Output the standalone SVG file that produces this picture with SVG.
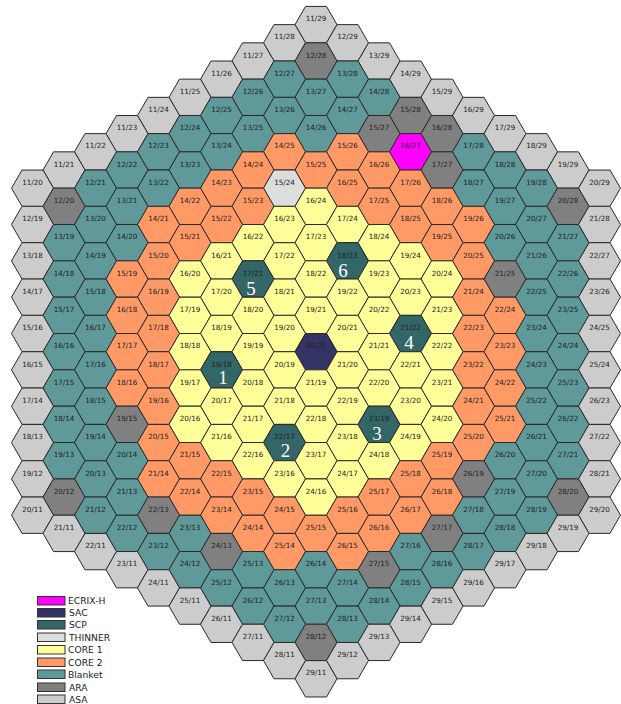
<svg xmlns="http://www.w3.org/2000/svg" width="621" height="704" viewBox="0 0 621 704">
<style>
text{font-family:"DejaVu Sans",sans-serif;font-size:7.2px;fill:#222;text-anchor:middle}
.hx{stroke:#2a2a2a;stroke-width:1}
.a{fill:#ccc}.r{fill:#808080}.b{fill:#5f9999}.o{fill:#f96}.y{fill:#ff9}.t{fill:#ddd}.s{fill:#366}.c{fill:#336}.e{fill:#f0f}
text.n{font-family:"Liberation Serif",serif;font-size:19px;fill:#fff}
.sw{stroke:#333;stroke-width:1}
text.l{font-size:9.2px;text-anchor:start;fill:#222}
</style>
<defs><polygon id="h" class="hx" points="-21,6 -10.5,-12.17 10.5,-12.17 21,6 10.5,24.17 -10.5,24.17"/></defs>
<g id="core">
<g transform="translate(0,18.6)">
<g id="n11-29" class="a" transform="translate(316)"><use href="#h"/><text y="2.6">11/29</text></g>
</g>
<g transform="translate(0,36.8)">
<g id="n11-28" class="a" transform="translate(284.5)"><use href="#h"/><text y="2.6">11/28</text></g>
<g id="n12-29" class="a" transform="translate(347.5)"><use href="#h"/><text y="2.6">12/29</text></g>
</g>
<g transform="translate(0,55)">
<g id="n11-27" class="a" transform="translate(253)"><use href="#h"/><text y="2.6">11/27</text></g>
<g id="n12-28" class="r" transform="translate(316)"><use href="#h"/><text y="2.6">12/28</text></g>
<g id="n13-29" class="a" transform="translate(379)"><use href="#h"/><text y="2.6">13/29</text></g>
</g>
<g transform="translate(0,73.2)">
<g id="n11-26" class="a" transform="translate(221.5)"><use href="#h"/><text y="2.6">11/26</text></g>
<g id="n12-27" class="b" transform="translate(284.5)"><use href="#h"/><text y="2.6">12/27</text></g>
<g id="n13-28" class="b" transform="translate(347.5)"><use href="#h"/><text y="2.6">13/28</text></g>
<g id="n14-29" class="a" transform="translate(410.5)"><use href="#h"/><text y="2.6">14/29</text></g>
</g>
<g transform="translate(0,91.3)">
<g id="n11-25" class="a" transform="translate(190)"><use href="#h"/><text y="2.6">11/25</text></g>
<g id="n12-26" class="b" transform="translate(253)"><use href="#h"/><text y="2.6">12/26</text></g>
<g id="n13-27" class="b" transform="translate(316)"><use href="#h"/><text y="2.6">13/27</text></g>
<g id="n14-28" class="b" transform="translate(379)"><use href="#h"/><text y="2.6">14/28</text></g>
<g id="n15-29" class="a" transform="translate(442)"><use href="#h"/><text y="2.6">15/29</text></g>
</g>
<g transform="translate(0,109.5)">
<g id="n11-24" class="a" transform="translate(158.5)"><use href="#h"/><text y="2.6">11/24</text></g>
<g id="n12-25" class="b" transform="translate(221.5)"><use href="#h"/><text y="2.6">12/25</text></g>
<g id="n13-26" class="b" transform="translate(284.5)"><use href="#h"/><text y="2.6">13/26</text></g>
<g id="n14-27" class="b" transform="translate(347.5)"><use href="#h"/><text y="2.6">14/27</text></g>
<g id="n15-28" class="r" transform="translate(410.5)"><use href="#h"/><text y="2.6">15/28</text></g>
<g id="n16-29" class="a" transform="translate(473.5)"><use href="#h"/><text y="2.6">16/29</text></g>
</g>
<g transform="translate(0,127.7)">
<g id="n11-23" class="a" transform="translate(127)"><use href="#h"/><text y="2.6">11/23</text></g>
<g id="n12-24" class="b" transform="translate(190)"><use href="#h"/><text y="2.6">12/24</text></g>
<g id="n13-25" class="b" transform="translate(253)"><use href="#h"/><text y="2.6">13/25</text></g>
<g id="n14-26" class="b" transform="translate(316)"><use href="#h"/><text y="2.6">14/26</text></g>
<g id="n15-27" class="r" transform="translate(379)"><use href="#h"/><text y="2.6">15/27</text></g>
<g id="n16-28" class="r" transform="translate(442)"><use href="#h"/><text y="2.6">16/28</text></g>
<g id="n17-29" class="a" transform="translate(505)"><use href="#h"/><text y="2.6">17/29</text></g>
</g>
<g transform="translate(0,145.8)">
<g id="n11-22" class="a" transform="translate(95.5)"><use href="#h"/><text y="2.6">11/22</text></g>
<g id="n12-23" class="b" transform="translate(158.5)"><use href="#h"/><text y="2.6">12/23</text></g>
<g id="n13-24" class="b" transform="translate(221.5)"><use href="#h"/><text y="2.6">13/24</text></g>
<g id="n14-25" class="o" transform="translate(284.5)"><use href="#h"/><text y="2.6">14/25</text></g>
<g id="n15-26" class="o" transform="translate(347.5)"><use href="#h"/><text y="2.6">15/26</text></g>
<g id="n16-27" class="e" transform="translate(410.5)"><use href="#h"/><text y="2.6">16/27</text></g>
<g id="n17-28" class="b" transform="translate(473.5)"><use href="#h"/><text y="2.6">17/28</text></g>
<g id="n18-29" class="a" transform="translate(536.5)"><use href="#h"/><text y="2.6">18/29</text></g>
</g>
<g transform="translate(0,164)">
<g id="n11-21" class="a" transform="translate(64)"><use href="#h"/><text y="2.6">11/21</text></g>
<g id="n12-22" class="b" transform="translate(127)"><use href="#h"/><text y="2.6">12/22</text></g>
<g id="n13-23" class="b" transform="translate(190)"><use href="#h"/><text y="2.6">13/23</text></g>
<g id="n14-24" class="o" transform="translate(253)"><use href="#h"/><text y="2.6">14/24</text></g>
<g id="n15-25" class="o" transform="translate(316)"><use href="#h"/><text y="2.6">15/25</text></g>
<g id="n16-26" class="o" transform="translate(379)"><use href="#h"/><text y="2.6">16/26</text></g>
<g id="n17-27" class="r" transform="translate(442)"><use href="#h"/><text y="2.6">17/27</text></g>
<g id="n18-28" class="b" transform="translate(505)"><use href="#h"/><text y="2.6">18/28</text></g>
<g id="n19-29" class="a" transform="translate(568)"><use href="#h"/><text y="2.6">19/29</text></g>
</g>
<g transform="translate(0,182.2)">
<g id="n11-20" class="a" transform="translate(32.5)"><use href="#h"/><text y="2.6">11/20</text></g>
<g id="n12-21" class="b" transform="translate(95.5)"><use href="#h"/><text y="2.6">12/21</text></g>
<g id="n13-22" class="b" transform="translate(158.5)"><use href="#h"/><text y="2.6">13/22</text></g>
<g id="n14-23" class="o" transform="translate(221.5)"><use href="#h"/><text y="2.6">14/23</text></g>
<g id="n15-24" class="t" transform="translate(284.5)"><use href="#h"/><text y="2.6">15/24</text></g>
<g id="n16-25" class="o" transform="translate(347.5)"><use href="#h"/><text y="2.6">16/25</text></g>
<g id="n17-26" class="o" transform="translate(410.5)"><use href="#h"/><text y="2.6">17/26</text></g>
<g id="n18-27" class="b" transform="translate(473.5)"><use href="#h"/><text y="2.6">18/27</text></g>
<g id="n19-28" class="b" transform="translate(536.5)"><use href="#h"/><text y="2.6">19/28</text></g>
<g id="n20-29" class="a" transform="translate(599.5)"><use href="#h"/><text y="2.6">20/29</text></g>
</g>
<g transform="translate(0,200.3)">
<g id="n12-20" class="r" transform="translate(64)"><use href="#h"/><text y="2.6">12/20</text></g>
<g id="n13-21" class="b" transform="translate(127)"><use href="#h"/><text y="2.6">13/21</text></g>
<g id="n14-22" class="o" transform="translate(190)"><use href="#h"/><text y="2.6">14/22</text></g>
<g id="n15-23" class="o" transform="translate(253)"><use href="#h"/><text y="2.6">15/23</text></g>
<g id="n16-24" class="y" transform="translate(316)"><use href="#h"/><text y="2.6">16/24</text></g>
<g id="n17-25" class="o" transform="translate(379)"><use href="#h"/><text y="2.6">17/25</text></g>
<g id="n18-26" class="o" transform="translate(442)"><use href="#h"/><text y="2.6">18/26</text></g>
<g id="n19-27" class="b" transform="translate(505)"><use href="#h"/><text y="2.6">19/27</text></g>
<g id="n20-28" class="r" transform="translate(568)"><use href="#h"/><text y="2.6">20/28</text></g>
</g>
<g transform="translate(0,218.5)">
<g id="n12-19" class="a" transform="translate(32.5)"><use href="#h"/><text y="2.6">12/19</text></g>
<g id="n13-20" class="b" transform="translate(95.5)"><use href="#h"/><text y="2.6">13/20</text></g>
<g id="n14-21" class="o" transform="translate(158.5)"><use href="#h"/><text y="2.6">14/21</text></g>
<g id="n15-22" class="o" transform="translate(221.5)"><use href="#h"/><text y="2.6">15/22</text></g>
<g id="n16-23" class="y" transform="translate(284.5)"><use href="#h"/><text y="2.6">16/23</text></g>
<g id="n17-24" class="y" transform="translate(347.5)"><use href="#h"/><text y="2.6">17/24</text></g>
<g id="n18-25" class="o" transform="translate(410.5)"><use href="#h"/><text y="2.6">18/25</text></g>
<g id="n19-26" class="o" transform="translate(473.5)"><use href="#h"/><text y="2.6">19/26</text></g>
<g id="n20-27" class="b" transform="translate(536.5)"><use href="#h"/><text y="2.6">20/27</text></g>
<g id="n21-28" class="a" transform="translate(599.5)"><use href="#h"/><text y="2.6">21/28</text></g>
</g>
<g transform="translate(0,236.7)">
<g id="n13-19" class="b" transform="translate(64)"><use href="#h"/><text y="2.6">13/19</text></g>
<g id="n14-20" class="b" transform="translate(127)"><use href="#h"/><text y="2.6">14/20</text></g>
<g id="n15-21" class="o" transform="translate(190)"><use href="#h"/><text y="2.6">15/21</text></g>
<g id="n16-22" class="y" transform="translate(253)"><use href="#h"/><text y="2.6">16/22</text></g>
<g id="n17-23" class="y" transform="translate(316)"><use href="#h"/><text y="2.6">17/23</text></g>
<g id="n18-24" class="y" transform="translate(379)"><use href="#h"/><text y="2.6">18/24</text></g>
<g id="n19-25" class="o" transform="translate(442)"><use href="#h"/><text y="2.6">19/25</text></g>
<g id="n20-26" class="b" transform="translate(505)"><use href="#h"/><text y="2.6">20/26</text></g>
<g id="n21-27" class="b" transform="translate(568)"><use href="#h"/><text y="2.6">21/27</text></g>
</g>
<g transform="translate(0,254.9)">
<g id="n13-18" class="a" transform="translate(32.5)"><use href="#h"/><text y="2.6">13/18</text></g>
<g id="n14-19" class="b" transform="translate(95.5)"><use href="#h"/><text y="2.6">14/19</text></g>
<g id="n15-20" class="o" transform="translate(158.5)"><use href="#h"/><text y="2.6">15/20</text></g>
<g id="n16-21" class="y" transform="translate(221.5)"><use href="#h"/><text y="2.6">16/21</text></g>
<g id="n17-22" class="y" transform="translate(284.5)"><use href="#h"/><text y="2.6">17/22</text></g>
<g id="n18-23" class="s" transform="translate(347.5)"><use href="#h"/><text y="2.6">18/23</text><text class="n" x="-4.5" y="22.3">6</text></g>
<g id="n19-24" class="y" transform="translate(410.5)"><use href="#h"/><text y="2.6">19/24</text></g>
<g id="n20-25" class="o" transform="translate(473.5)"><use href="#h"/><text y="2.6">20/25</text></g>
<g id="n21-26" class="b" transform="translate(536.5)"><use href="#h"/><text y="2.6">21/26</text></g>
<g id="n22-27" class="a" transform="translate(599.5)"><use href="#h"/><text y="2.6">22/27</text></g>
</g>
<g transform="translate(0,273)">
<g id="n14-18" class="b" transform="translate(64)"><use href="#h"/><text y="2.6">14/18</text></g>
<g id="n15-19" class="o" transform="translate(127)"><use href="#h"/><text y="2.6">15/19</text></g>
<g id="n16-20" class="y" transform="translate(190)"><use href="#h"/><text y="2.6">16/20</text></g>
<g id="n17-21" class="s" transform="translate(253)"><use href="#h"/><text y="2.6">17/21</text><text class="n" x="-2" y="22">5</text></g>
<g id="n18-22" class="y" transform="translate(316)"><use href="#h"/><text y="2.6">18/22</text></g>
<g id="n19-23" class="y" transform="translate(379)"><use href="#h"/><text y="2.6">19/23</text></g>
<g id="n20-24" class="y" transform="translate(442)"><use href="#h"/><text y="2.6">20/24</text></g>
<g id="n21-25" class="r" transform="translate(505)"><use href="#h"/><text y="2.6">21/25</text></g>
<g id="n22-26" class="b" transform="translate(568)"><use href="#h"/><text y="2.6">22/26</text></g>
</g>
<g transform="translate(0,291.2)">
<g id="n14-17" class="a" transform="translate(32.5)"><use href="#h"/><text y="2.6">14/17</text></g>
<g id="n15-18" class="b" transform="translate(95.5)"><use href="#h"/><text y="2.6">15/18</text></g>
<g id="n16-19" class="o" transform="translate(158.5)"><use href="#h"/><text y="2.6">16/19</text></g>
<g id="n17-20" class="y" transform="translate(221.5)"><use href="#h"/><text y="2.6">17/20</text></g>
<g id="n18-21" class="y" transform="translate(284.5)"><use href="#h"/><text y="2.6">18/21</text></g>
<g id="n19-22" class="y" transform="translate(347.5)"><use href="#h"/><text y="2.6">19/22</text></g>
<g id="n20-23" class="y" transform="translate(410.5)"><use href="#h"/><text y="2.6">20/23</text></g>
<g id="n21-24" class="o" transform="translate(473.5)"><use href="#h"/><text y="2.6">21/24</text></g>
<g id="n22-25" class="b" transform="translate(536.5)"><use href="#h"/><text y="2.6">22/25</text></g>
<g id="n23-26" class="a" transform="translate(599.5)"><use href="#h"/><text y="2.6">23/26</text></g>
</g>
<g transform="translate(0,309.4)">
<g id="n15-17" class="b" transform="translate(64)"><use href="#h"/><text y="2.6">15/17</text></g>
<g id="n16-18" class="o" transform="translate(127)"><use href="#h"/><text y="2.6">16/18</text></g>
<g id="n17-19" class="y" transform="translate(190)"><use href="#h"/><text y="2.6">17/19</text></g>
<g id="n18-20" class="y" transform="translate(253)"><use href="#h"/><text y="2.6">18/20</text></g>
<g id="n19-21" class="y" transform="translate(316)"><use href="#h"/><text y="2.6">19/21</text></g>
<g id="n20-22" class="y" transform="translate(379)"><use href="#h"/><text y="2.6">20/22</text></g>
<g id="n21-23" class="y" transform="translate(442)"><use href="#h"/><text y="2.6">21/23</text></g>
<g id="n22-24" class="o" transform="translate(505)"><use href="#h"/><text y="2.6">22/24</text></g>
<g id="n23-25" class="b" transform="translate(568)"><use href="#h"/><text y="2.6">23/25</text></g>
</g>
<g transform="translate(0,327.5)">
<g id="n15-16" class="a" transform="translate(32.5)"><use href="#h"/><text y="2.6">15/16</text></g>
<g id="n16-17" class="b" transform="translate(95.5)"><use href="#h"/><text y="2.6">16/17</text></g>
<g id="n17-18" class="o" transform="translate(158.5)"><use href="#h"/><text y="2.6">17/18</text></g>
<g id="n18-19" class="y" transform="translate(221.5)"><use href="#h"/><text y="2.6">18/19</text></g>
<g id="n19-20" class="y" transform="translate(284.5)"><use href="#h"/><text y="2.6">19/20</text></g>
<g id="n20-21" class="y" transform="translate(347.5)"><use href="#h"/><text y="2.6">20/21</text></g>
<g id="n21-22" class="s" transform="translate(410.5)"><use href="#h"/><text y="2.6">21/22</text><text class="n" x="-1.5" y="21.8">4</text></g>
<g id="n22-23" class="o" transform="translate(473.5)"><use href="#h"/><text y="2.6">22/23</text></g>
<g id="n23-24" class="b" transform="translate(536.5)"><use href="#h"/><text y="2.6">23/24</text></g>
<g id="n24-25" class="a" transform="translate(599.5)"><use href="#h"/><text y="2.6">24/25</text></g>
</g>
<g transform="translate(0,345.7)">
<g id="n16-16" class="b" transform="translate(64)"><use href="#h"/><text y="2.6">16/16</text></g>
<g id="n17-17" class="o" transform="translate(127)"><use href="#h"/><text y="2.6">17/17</text></g>
<g id="n18-18" class="y" transform="translate(190)"><use href="#h"/><text y="2.6">18/18</text></g>
<g id="n19-19" class="y" transform="translate(253)"><use href="#h"/><text y="2.6">19/19</text></g>
<g id="n20-20" class="c" transform="translate(316)"><use href="#h"/><text y="2.6">20/20</text></g>
<g id="n21-21" class="y" transform="translate(379)"><use href="#h"/><text y="2.6">21/21</text></g>
<g id="n22-22" class="y" transform="translate(442)"><use href="#h"/><text y="2.6">22/22</text></g>
<g id="n23-23" class="o" transform="translate(505)"><use href="#h"/><text y="2.6">23/23</text></g>
<g id="n24-24" class="b" transform="translate(568)"><use href="#h"/><text y="2.6">24/24</text></g>
</g>
<g transform="translate(0,363.9)">
<g id="n16-15" class="a" transform="translate(32.5)"><use href="#h"/><text y="2.6">16/15</text></g>
<g id="n17-16" class="b" transform="translate(95.5)"><use href="#h"/><text y="2.6">17/16</text></g>
<g id="n18-17" class="o" transform="translate(158.5)"><use href="#h"/><text y="2.6">18/17</text></g>
<g id="n19-18" class="s" transform="translate(221.5)"><use href="#h"/><text y="2.6">19/18</text><text class="n" x="1.5" y="20.4">1</text></g>
<g id="n20-19" class="y" transform="translate(284.5)"><use href="#h"/><text y="2.6">20/19</text></g>
<g id="n21-20" class="y" transform="translate(347.5)"><use href="#h"/><text y="2.6">21/20</text></g>
<g id="n22-21" class="y" transform="translate(410.5)"><use href="#h"/><text y="2.6">22/21</text></g>
<g id="n23-22" class="o" transform="translate(473.5)"><use href="#h"/><text y="2.6">23/22</text></g>
<g id="n24-23" class="b" transform="translate(536.5)"><use href="#h"/><text y="2.6">24/23</text></g>
<g id="n25-24" class="a" transform="translate(599.5)"><use href="#h"/><text y="2.6">25/24</text></g>
</g>
<g transform="translate(0,382)">
<g id="n17-15" class="b" transform="translate(64)"><use href="#h"/><text y="2.6">17/15</text></g>
<g id="n18-16" class="o" transform="translate(127)"><use href="#h"/><text y="2.6">18/16</text></g>
<g id="n19-17" class="y" transform="translate(190)"><use href="#h"/><text y="2.6">19/17</text></g>
<g id="n20-18" class="y" transform="translate(253)"><use href="#h"/><text y="2.6">20/18</text></g>
<g id="n21-19" class="y" transform="translate(316)"><use href="#h"/><text y="2.6">21/19</text></g>
<g id="n22-20" class="y" transform="translate(379)"><use href="#h"/><text y="2.6">22/20</text></g>
<g id="n23-21" class="y" transform="translate(442)"><use href="#h"/><text y="2.6">23/21</text></g>
<g id="n24-22" class="o" transform="translate(505)"><use href="#h"/><text y="2.6">24/22</text></g>
<g id="n25-23" class="b" transform="translate(568)"><use href="#h"/><text y="2.6">25/23</text></g>
</g>
<g transform="translate(0,400.2)">
<g id="n17-14" class="a" transform="translate(32.5)"><use href="#h"/><text y="2.6">17/14</text></g>
<g id="n18-15" class="b" transform="translate(95.5)"><use href="#h"/><text y="2.6">18/15</text></g>
<g id="n19-16" class="o" transform="translate(158.5)"><use href="#h"/><text y="2.6">19/16</text></g>
<g id="n20-17" class="y" transform="translate(221.5)"><use href="#h"/><text y="2.6">20/17</text></g>
<g id="n21-18" class="y" transform="translate(284.5)"><use href="#h"/><text y="2.6">21/18</text></g>
<g id="n22-19" class="y" transform="translate(347.5)"><use href="#h"/><text y="2.6">22/19</text></g>
<g id="n23-20" class="y" transform="translate(410.5)"><use href="#h"/><text y="2.6">23/20</text></g>
<g id="n24-21" class="o" transform="translate(473.5)"><use href="#h"/><text y="2.6">24/21</text></g>
<g id="n25-22" class="b" transform="translate(536.5)"><use href="#h"/><text y="2.6">25/22</text></g>
<g id="n26-23" class="a" transform="translate(599.5)"><use href="#h"/><text y="2.6">26/23</text></g>
</g>
<g transform="translate(0,418.4)">
<g id="n18-14" class="b" transform="translate(64)"><use href="#h"/><text y="2.6">18/14</text></g>
<g id="n19-15" class="r" transform="translate(127)"><use href="#h"/><text y="2.6">19/15</text></g>
<g id="n20-16" class="y" transform="translate(190)"><use href="#h"/><text y="2.6">20/16</text></g>
<g id="n21-17" class="y" transform="translate(253)"><use href="#h"/><text y="2.6">21/17</text></g>
<g id="n22-18" class="y" transform="translate(316)"><use href="#h"/><text y="2.6">22/18</text></g>
<g id="n23-19" class="s" transform="translate(379)"><use href="#h"/><text y="2.6">23/19</text><text class="n" x="-2" y="21.3">3</text></g>
<g id="n24-20" class="y" transform="translate(442)"><use href="#h"/><text y="2.6">24/20</text></g>
<g id="n25-21" class="o" transform="translate(505)"><use href="#h"/><text y="2.6">25/21</text></g>
<g id="n26-22" class="b" transform="translate(568)"><use href="#h"/><text y="2.6">26/22</text></g>
</g>
<g transform="translate(0,436.6)">
<g id="n18-13" class="a" transform="translate(32.5)"><use href="#h"/><text y="2.6">18/13</text></g>
<g id="n19-14" class="b" transform="translate(95.5)"><use href="#h"/><text y="2.6">19/14</text></g>
<g id="n20-15" class="o" transform="translate(158.5)"><use href="#h"/><text y="2.6">20/15</text></g>
<g id="n21-16" class="y" transform="translate(221.5)"><use href="#h"/><text y="2.6">21/16</text></g>
<g id="n22-17" class="s" transform="translate(284.5)"><use href="#h"/><text y="2.6">22/17</text><text class="n" x="1" y="20.7">2</text></g>
<g id="n23-18" class="y" transform="translate(347.5)"><use href="#h"/><text y="2.6">23/18</text></g>
<g id="n24-19" class="y" transform="translate(410.5)"><use href="#h"/><text y="2.6">24/19</text></g>
<g id="n25-20" class="o" transform="translate(473.5)"><use href="#h"/><text y="2.6">25/20</text></g>
<g id="n26-21" class="b" transform="translate(536.5)"><use href="#h"/><text y="2.6">26/21</text></g>
<g id="n27-22" class="a" transform="translate(599.5)"><use href="#h"/><text y="2.6">27/22</text></g>
</g>
<g transform="translate(0,454.7)">
<g id="n19-13" class="b" transform="translate(64)"><use href="#h"/><text y="2.6">19/13</text></g>
<g id="n20-14" class="b" transform="translate(127)"><use href="#h"/><text y="2.6">20/14</text></g>
<g id="n21-15" class="o" transform="translate(190)"><use href="#h"/><text y="2.6">21/15</text></g>
<g id="n22-16" class="y" transform="translate(253)"><use href="#h"/><text y="2.6">22/16</text></g>
<g id="n23-17" class="y" transform="translate(316)"><use href="#h"/><text y="2.6">23/17</text></g>
<g id="n24-18" class="y" transform="translate(379)"><use href="#h"/><text y="2.6">24/18</text></g>
<g id="n25-19" class="o" transform="translate(442)"><use href="#h"/><text y="2.6">25/19</text></g>
<g id="n26-20" class="b" transform="translate(505)"><use href="#h"/><text y="2.6">26/20</text></g>
<g id="n27-21" class="b" transform="translate(568)"><use href="#h"/><text y="2.6">27/21</text></g>
</g>
<g transform="translate(0,472.9)">
<g id="n19-12" class="a" transform="translate(32.5)"><use href="#h"/><text y="2.6">19/12</text></g>
<g id="n20-13" class="b" transform="translate(95.5)"><use href="#h"/><text y="2.6">20/13</text></g>
<g id="n21-14" class="o" transform="translate(158.5)"><use href="#h"/><text y="2.6">21/14</text></g>
<g id="n22-15" class="o" transform="translate(221.5)"><use href="#h"/><text y="2.6">22/15</text></g>
<g id="n23-16" class="y" transform="translate(284.5)"><use href="#h"/><text y="2.6">23/16</text></g>
<g id="n24-17" class="y" transform="translate(347.5)"><use href="#h"/><text y="2.6">24/17</text></g>
<g id="n25-18" class="o" transform="translate(410.5)"><use href="#h"/><text y="2.6">25/18</text></g>
<g id="n26-19" class="r" transform="translate(473.5)"><use href="#h"/><text y="2.6">26/19</text></g>
<g id="n27-20" class="b" transform="translate(536.5)"><use href="#h"/><text y="2.6">27/20</text></g>
<g id="n28-21" class="a" transform="translate(599.5)"><use href="#h"/><text y="2.6">28/21</text></g>
</g>
<g transform="translate(0,491.1)">
<g id="n20-12" class="r" transform="translate(64)"><use href="#h"/><text y="2.6">20/12</text></g>
<g id="n21-13" class="b" transform="translate(127)"><use href="#h"/><text y="2.6">21/13</text></g>
<g id="n22-14" class="o" transform="translate(190)"><use href="#h"/><text y="2.6">22/14</text></g>
<g id="n23-15" class="o" transform="translate(253)"><use href="#h"/><text y="2.6">23/15</text></g>
<g id="n24-16" class="y" transform="translate(316)"><use href="#h"/><text y="2.6">24/16</text></g>
<g id="n25-17" class="o" transform="translate(379)"><use href="#h"/><text y="2.6">25/17</text></g>
<g id="n26-18" class="o" transform="translate(442)"><use href="#h"/><text y="2.6">26/18</text></g>
<g id="n27-19" class="b" transform="translate(505)"><use href="#h"/><text y="2.6">27/19</text></g>
<g id="n28-20" class="r" transform="translate(568)"><use href="#h"/><text y="2.6">28/20</text></g>
</g>
<g transform="translate(0,509.2)">
<g id="n20-11" class="a" transform="translate(32.5)"><use href="#h"/><text y="2.6">20/11</text></g>
<g id="n21-12" class="b" transform="translate(95.5)"><use href="#h"/><text y="2.6">21/12</text></g>
<g id="n22-13" class="r" transform="translate(158.5)"><use href="#h"/><text y="2.6">22/13</text></g>
<g id="n23-14" class="o" transform="translate(221.5)"><use href="#h"/><text y="2.6">23/14</text></g>
<g id="n24-15" class="o" transform="translate(284.5)"><use href="#h"/><text y="2.6">24/15</text></g>
<g id="n25-16" class="o" transform="translate(347.5)"><use href="#h"/><text y="2.6">25/16</text></g>
<g id="n26-17" class="o" transform="translate(410.5)"><use href="#h"/><text y="2.6">26/17</text></g>
<g id="n27-18" class="b" transform="translate(473.5)"><use href="#h"/><text y="2.6">27/18</text></g>
<g id="n28-19" class="b" transform="translate(536.5)"><use href="#h"/><text y="2.6">28/19</text></g>
<g id="n29-20" class="a" transform="translate(599.5)"><use href="#h"/><text y="2.6">29/20</text></g>
</g>
<g transform="translate(0,527.4)">
<g id="n21-11" class="a" transform="translate(64)"><use href="#h"/><text y="2.6">21/11</text></g>
<g id="n22-12" class="b" transform="translate(127)"><use href="#h"/><text y="2.6">22/12</text></g>
<g id="n23-13" class="b" transform="translate(190)"><use href="#h"/><text y="2.6">23/13</text></g>
<g id="n24-14" class="o" transform="translate(253)"><use href="#h"/><text y="2.6">24/14</text></g>
<g id="n25-15" class="o" transform="translate(316)"><use href="#h"/><text y="2.6">25/15</text></g>
<g id="n26-16" class="o" transform="translate(379)"><use href="#h"/><text y="2.6">26/16</text></g>
<g id="n27-17" class="r" transform="translate(442)"><use href="#h"/><text y="2.6">27/17</text></g>
<g id="n28-18" class="b" transform="translate(505)"><use href="#h"/><text y="2.6">28/18</text></g>
<g id="n29-19" class="a" transform="translate(568)"><use href="#h"/><text y="2.6">29/19</text></g>
</g>
<g transform="translate(0,545.6)">
<g id="n22-11" class="a" transform="translate(95.5)"><use href="#h"/><text y="2.6">22/11</text></g>
<g id="n23-12" class="b" transform="translate(158.5)"><use href="#h"/><text y="2.6">23/12</text></g>
<g id="n24-13" class="r" transform="translate(221.5)"><use href="#h"/><text y="2.6">24/13</text></g>
<g id="n25-14" class="o" transform="translate(284.5)"><use href="#h"/><text y="2.6">25/14</text></g>
<g id="n26-15" class="o" transform="translate(347.5)"><use href="#h"/><text y="2.6">26/15</text></g>
<g id="n27-16" class="b" transform="translate(410.5)"><use href="#h"/><text y="2.6">27/16</text></g>
<g id="n28-17" class="b" transform="translate(473.5)"><use href="#h"/><text y="2.6">28/17</text></g>
<g id="n29-18" class="a" transform="translate(536.5)"><use href="#h"/><text y="2.6">29/18</text></g>
</g>
<g transform="translate(0,563.7)">
<g id="n23-11" class="a" transform="translate(127)"><use href="#h"/><text y="2.6">23/11</text></g>
<g id="n24-12" class="b" transform="translate(190)"><use href="#h"/><text y="2.6">24/12</text></g>
<g id="n25-13" class="b" transform="translate(253)"><use href="#h"/><text y="2.6">25/13</text></g>
<g id="n26-14" class="b" transform="translate(316)"><use href="#h"/><text y="2.6">26/14</text></g>
<g id="n27-15" class="r" transform="translate(379)"><use href="#h"/><text y="2.6">27/15</text></g>
<g id="n28-16" class="b" transform="translate(442)"><use href="#h"/><text y="2.6">28/16</text></g>
<g id="n29-17" class="a" transform="translate(505)"><use href="#h"/><text y="2.6">29/17</text></g>
</g>
<g transform="translate(0,581.9)">
<g id="n24-11" class="a" transform="translate(158.5)"><use href="#h"/><text y="2.6">24/11</text></g>
<g id="n25-12" class="b" transform="translate(221.5)"><use href="#h"/><text y="2.6">25/12</text></g>
<g id="n26-13" class="b" transform="translate(284.5)"><use href="#h"/><text y="2.6">26/13</text></g>
<g id="n27-14" class="b" transform="translate(347.5)"><use href="#h"/><text y="2.6">27/14</text></g>
<g id="n28-15" class="b" transform="translate(410.5)"><use href="#h"/><text y="2.6">28/15</text></g>
<g id="n29-16" class="a" transform="translate(473.5)"><use href="#h"/><text y="2.6">29/16</text></g>
</g>
<g transform="translate(0,600.1)">
<g id="n25-11" class="a" transform="translate(190)"><use href="#h"/><text y="2.6">25/11</text></g>
<g id="n26-12" class="b" transform="translate(253)"><use href="#h"/><text y="2.6">26/12</text></g>
<g id="n27-13" class="b" transform="translate(316)"><use href="#h"/><text y="2.6">27/13</text></g>
<g id="n28-14" class="b" transform="translate(379)"><use href="#h"/><text y="2.6">28/14</text></g>
<g id="n29-15" class="a" transform="translate(442)"><use href="#h"/><text y="2.6">29/15</text></g>
</g>
<g transform="translate(0,618.3)">
<g id="n26-11" class="a" transform="translate(221.5)"><use href="#h"/><text y="2.6">26/11</text></g>
<g id="n27-12" class="b" transform="translate(284.5)"><use href="#h"/><text y="2.6">27/12</text></g>
<g id="n28-13" class="b" transform="translate(347.5)"><use href="#h"/><text y="2.6">28/13</text></g>
<g id="n29-14" class="a" transform="translate(410.5)"><use href="#h"/><text y="2.6">29/14</text></g>
</g>
<g transform="translate(0,636.4)">
<g id="n27-11" class="a" transform="translate(253)"><use href="#h"/><text y="2.6">27/11</text></g>
<g id="n28-12" class="r" transform="translate(316)"><use href="#h"/><text y="2.6">28/12</text></g>
<g id="n29-13" class="a" transform="translate(379)"><use href="#h"/><text y="2.6">29/13</text></g>
</g>
<g transform="translate(0,654.6)">
<g id="n28-11" class="a" transform="translate(284.5)"><use href="#h"/><text y="2.6">28/11</text></g>
<g id="n29-12" class="a" transform="translate(347.5)"><use href="#h"/><text y="2.6">29/12</text></g>
</g>
<g transform="translate(0,672.8)">
<g id="n29-11" class="a" transform="translate(316)"><use href="#h"/><text y="2.6">29/11</text></g>
</g>
</g>
<g id="connectors"/>
<g id="legend">
<rect class="e sw" x="37.5" y="596.5" width="27.5" height="8.5"/><text class="l" x="68" y="604">ECRIX-H</text>
<rect class="c sw" x="37.5" y="608.5" width="27.5" height="8.5"/><text class="l" x="69" y="616">SAC</text>
<rect class="s sw" x="37.5" y="620.5" width="27.5" height="8.5"/><text class="l" x="69" y="628">SCP</text>
<rect class="t sw" x="37.5" y="633" width="27.5" height="8.5"/><text class="l" x="69" y="641">THINNER</text>
<rect class="y sw" x="37.5" y="645.5" width="27.5" height="8.5"/><text class="l" x="68" y="653">CORE 1</text>
<rect class="o sw" x="37.5" y="658" width="27.5" height="8.5"/><text class="l" x="68" y="665.5">CORE 2</text>
<rect class="b sw" x="37.5" y="670" width="27.5" height="8.5"/><text class="l" x="68" y="677.5">Blanket</text>
<rect class="r sw" x="37.5" y="683" width="27.5" height="8.5"/><text class="l" x="69" y="690.5">ARA</text>
<rect class="a sw" x="37.5" y="695" width="27.5" height="8.5"/><text class="l" x="69" y="702.5">ASA</text>
</g>
</svg>
